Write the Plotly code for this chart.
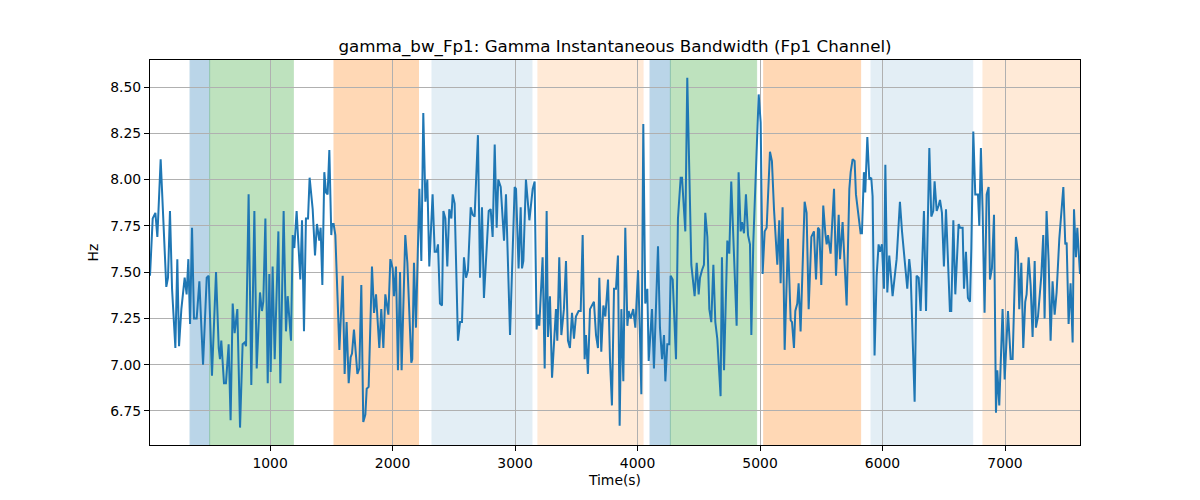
import plotly.graph_objects as go

time_s = [
    20, 42, 64, 80, 107, 129, 153, 167, 183, 200, 227, 243, 257, 276, 303, 319, 333, 347, 363, 379,
    401, 423, 453, 483, 499, 526, 559, 581, 591, 602, 624, 640, 662, 678, 695, 711, 733,
    755, 776, 793, 804, 825, 847, 872, 891, 918, 934, 945, 962, 981, 994, 1005, 1021, 1038, 1068,
    1084, 1111, 1130, 1144, 1171, 1185, 1198, 1217, 1247, 1261, 1277, 1293, 1310, 1323, 1348, 1367,
    1383, 1402, 1413, 1427, 1443, 1457, 1470, 1484, 1500,
    1506, 1519, 1533, 1566, 1593, 1609, 1625, 1642, 1658, 1669, 1685, 1713, 1729, 1745, 1761, 1778,
    1789, 1805, 1832, 1849, 1865, 1892, 1908, 1925, 1941, 1966, 1982, 2001, 2012, 2028, 2044, 2061,
    2074, 2104, 2121, 2153, 2161, 2175, 2191, 2219, 2235, 2251,
    2268, 2284, 2300, 2327, 2344, 2360, 2371, 2387, 2404, 2415, 2431, 2447, 2463, 2480, 2491, 2507,
    2534, 2551, 2567, 2583, 2600, 2616, 2638, 2654, 2670, 2697, 2714, 2730, 2746, 2785, 2801, 2817,
    2834, 2850, 2863, 2883, 2899, 2910, 2926, 2959, 2997,
    3008, 3029, 3046, 3057, 3068, 3089, 3117, 3144, 3160, 3176, 3187, 3198, 3225, 3242, 3258, 3269,
    3285, 3302, 3334, 3345, 3361, 3378, 3399, 3416, 3432, 3448, 3465, 3481, 3497, 3519, 3536, 3552,
    3568, 3579, 3595, 3612, 3644, 3661, 3677, 3688, 3704, 3721, 3737,
    3759, 3775, 3791, 3808, 3824, 3840, 3854, 3868, 3884, 3900, 3917, 3927, 3944, 3965, 3982, 4004,
    4020, 4031, 4047, 4063, 4080, 4091, 4118, 4134, 4167, 4183, 4200, 4216, 4227, 4243, 4259, 4270,
    4287, 4314, 4330, 4352, 4363, 4390, 4406, 4439, 4466, 4483, 4499,
    4510, 4526, 4542, 4553, 4570, 4586, 4602, 4619, 4635, 4651, 4678, 4689, 4706, 4733, 4749, 4765,
    4787, 4809, 4825, 4842, 4853, 4869, 4885, 4902, 4918, 4929, 4945, 4967, 4989, 5005, 5021, 5038,
    5054, 5081, 5097, 5114, 5130, 5141, 5157, 5168, 5184, 5201, 5228, 5250,
    5261, 5277, 5288, 5304, 5315, 5331, 5364, 5380, 5397, 5419, 5440, 5457, 5473, 5484, 5500, 5516,
    5533, 5544, 5555, 5576, 5604, 5620, 5642, 5653, 5674, 5691, 5707, 5729, 5740, 5756, 5772, 5783,
    5805, 5821, 5832, 5848, 5859, 5876, 5892, 5908, 5919, 5935, 5952, 5968, 5979, 5995,
    6012, 6023, 6039, 6055, 6082, 6115, 6142, 6159, 6202, 6218, 6229, 6262, 6278, 6295, 6311, 6338,
    6355, 6382, 6398, 6414, 6425, 6442, 6458, 6469, 6485, 6501, 6518, 6550, 6561, 6578, 6594, 6621,
    6632, 6643, 6654, 6665, 6681, 6697, 6714, 6725, 6741, 6757,
    6763, 6779, 6790, 6803, 6817, 6833, 6850, 6866, 6877, 6893, 6910, 6926, 6937, 6953, 6980, 6997,
    7024, 7046, 7062, 7078, 7089, 7105, 7116, 7133, 7149, 7165, 7176, 7193, 7209, 7225, 7242, 7252,
    7269, 7296, 7312, 7323, 7339, 7356, 7372, 7388, 7405, 7421, 7443, 7476, 7492, 7503, 7519, 7535,
    7552, 7563, 7579, 7590, 7601, 7612,
]

bandwidth_hz = [
    7.48, 7.79, 7.82, 7.69, 8.11, 7.77, 7.42, 7.47, 7.83, 7.41, 7.09, 7.57, 7.10, 7.30, 7.47, 7.38, 7.57, 7.22, 7.74, 7.25,
    7.25, 7.45, 7.00, 7.47, 7.48, 6.94, 7.50, 7.09, 7.03, 7.13, 6.90, 6.90, 7.11, 6.70, 7.33, 7.17, 7.30,
    6.66, 7.11, 7.12, 7.10, 7.92, 6.89, 7.83, 6.98, 7.39, 7.29, 7.34, 7.79, 6.90, 7.49, 6.96, 7.53, 7.03, 7.72,
    6.90, 7.83, 7.18, 7.37, 7.13, 7.70, 7.63, 7.83, 7.46, 7.78, 7.18, 7.79, 7.79, 8.01, 7.84, 7.59,
    7.76, 7.67, 7.74, 7.43, 8.04, 7.93, 7.92, 8.16, 7.70,
    7.76, 7.76, 7.70, 7.08, 7.48, 6.95, 7.23, 6.90, 7.04, 7.06, 7.19, 6.95, 6.98, 7.43, 6.69, 6.73,
    6.87, 6.88, 7.53, 7.28, 7.38, 7.09, 7.30, 7.09, 7.38, 7.27, 7.57, 7.52, 7.37, 7.53, 6.97, 7.50,
    6.97, 7.70, 7.55, 7.01, 7.03, 7.55, 7.20, 7.95, 7.56, 8.36,
    7.88, 8.00, 7.53, 7.92, 7.61, 7.61, 7.65, 7.33, 7.32, 7.83, 7.79, 7.53, 7.84, 7.79, 7.92, 7.87,
    7.13, 7.23, 7.23, 7.58, 7.47, 7.51, 7.85, 7.81, 7.80, 8.24, 7.47, 7.85, 7.36, 7.83, 7.84, 7.69,
    8.19, 7.74, 8.00, 7.96, 7.75, 7.67, 7.92, 7.16, 7.96,
    7.95, 7.52, 7.85, 7.52, 7.56, 8.00, 7.78, 7.95, 7.99, 7.19, 7.27, 7.21, 7.58, 6.98, 7.83, 7.15,
    7.37, 6.93, 7.30, 7.13, 7.58, 7.16, 7.30, 7.56, 7.13, 7.09, 7.28, 7.14, 7.26, 7.29, 7.29, 7.70,
    7.03, 7.16, 6.95, 7.30, 7.34, 7.16, 7.09, 7.47, 7.07, 7.32, 7.26,
    7.46, 7.03, 6.78, 7.41, 7.41, 7.59, 6.67, 7.30, 6.91, 7.74, 7.21, 7.29, 7.25, 7.30, 7.20, 7.51,
    7.16, 6.84, 8.30, 7.33, 7.41, 7.02, 7.30, 6.98, 7.64, 7.20, 7.03, 7.16, 6.91, 7.11, 7.11, 7.48,
    7.46, 7.03, 7.79, 8.01, 8.01, 7.72, 8.55, 7.54, 7.37, 7.55, 7.38,
    7.47, 7.51, 7.54, 7.82, 7.69, 7.30, 7.23, 7.54, 7.23, 7.14, 6.83, 7.58, 6.97, 7.67, 7.60, 7.99,
    7.56, 7.21, 8.04, 7.72, 7.77, 7.71, 7.92, 7.70, 7.65, 7.16, 7.66, 8.02, 8.46, 8.31, 7.49, 7.72,
    7.74, 8.15, 8.10, 7.84, 7.63, 7.54, 7.78, 7.44, 7.85, 7.08, 7.68, 7.24,
    7.23, 7.09, 7.29, 7.33, 7.44, 7.18, 7.88, 7.82, 7.30, 7.69, 7.72, 7.46, 7.74, 7.73, 7.43, 7.86,
    7.71, 7.65, 7.70, 7.60, 7.95, 7.48, 7.81, 7.57, 7.77, 7.50, 7.32, 7.95, 8.04, 8.11, 8.10, 7.92,
    7.79, 7.71, 7.71, 8.04, 7.93, 8.23, 8.00, 8.01, 7.91, 7.05, 7.48, 7.65, 7.61, 7.65,
    7.41, 8.08, 7.39, 7.59, 7.37, 7.57, 7.88, 7.72, 7.41, 7.57, 7.50, 6.80, 7.48, 7.47, 7.29, 7.83,
    7.29, 8.17, 7.80, 7.83, 7.99, 7.83, 7.86, 7.89, 7.82, 7.53, 7.84, 7.29, 7.29, 7.78, 7.38, 7.76,
    7.74, 7.74, 7.74, 7.41, 7.61, 7.36, 7.34, 7.63, 8.26, 7.92,
    7.92, 7.92, 7.75, 8.17, 7.83, 7.28, 7.92, 7.96, 7.46, 7.52, 7.81, 6.74, 6.97, 6.78, 7.30, 6.92,
    7.29, 7.03, 7.03, 7.41, 7.69, 7.61, 7.30, 7.55, 7.09, 7.34, 7.38, 7.58, 7.43, 7.15, 7.56, 7.20,
    7.26, 7.48, 7.70, 7.25, 7.83, 7.56, 7.13, 7.45, 7.27, 7.39, 7.68, 7.96, 7.65, 7.66, 7.22, 7.44,
    7.12, 7.84, 7.58, 7.74, 7.58, 7.49,
]

# shaded intervals: (start, end, colour, opacity)
span_starts = [347, 507, 1522, 2322, 3187, 4102, 4268, 5030, 5906, 6820]
span_ends = [507, 1190, 2212, 3138, 4045, 4268, 4972, 5821, 6736, 7612]
span_colors = ["#1f77b4", "#2ca02c", "#ff7f0e", "#1f77b4", "#ff7f0e",
               "#1f77b4", "#2ca02c", "#ff7f0e", "#1f77b4", "#ff7f0e"]
span_alphas = [0.3, 0.3, 0.3, 0.12, 0.16, 0.3, 0.3, 0.3, 0.12, 0.16]

y_ticks = [6.75, 7.00, 7.25, 7.50, 7.75, 8.00, 8.25, 8.50]
x_ticks = [1000, 2000, 3000, 4000, 5000, 6000, 7000]

fig = go.Figure()
fig.add_trace(go.Scatter(x=time_s, y=bandwidth_hz, mode="lines",
                         line=dict(color="#1f77b4", width=2), showlegend=False))

for s, e, c, a in zip(span_starts, span_ends, span_colors, span_alphas):
    fig.add_vrect(x0=s, x1=e, fillcolor=c, opacity=a,
                  line=dict(color=c, width=1), layer="below")

font = "DejaVu Sans, Arial, sans-serif"
fig.update_layout(
    width=1200, height=500,
    margin=dict(l=150, r=120, t=60, b=55),
    paper_bgcolor="white", plot_bgcolor="white",
    font=dict(family=font, size=13.9, color="black"),
    title=dict(text="gamma_bw_Fp1: Gamma Instantaneous Bandwidth (Fp1 Channel)",
               x=0.5, xref="paper", xanchor="center", y=1 - 46 / 500, yanchor="middle",
               font=dict(size=16.7, family=font, color="black")),
    xaxis=dict(range=[20, 7612], tickvals=x_ticks, ticktext=[str(v) for v in x_ticks],
               showgrid=True, gridcolor="#b0b0b0", gridwidth=1,
               showline=True, linecolor="black", linewidth=1, mirror=True,
               ticks="outside", ticklen=5, tickcolor="black", zeroline=False,
               title=dict(text="Time(s)", standoff=5, font=dict(size=13.9))),
    yaxis=dict(range=[6.566, 8.646], tickvals=y_ticks, ticktext=[f"{v:.2f}" for v in y_ticks],
               showgrid=True, gridcolor="#b0b0b0", gridwidth=1,
               showline=True, linecolor="black", linewidth=1, mirror=True,
               ticks="outside", ticklen=5, tickcolor="black", zeroline=False,
               title=dict(text="Hz", standoff=8, font=dict(size=13.9))),
)

fig.write_html("out.html")
